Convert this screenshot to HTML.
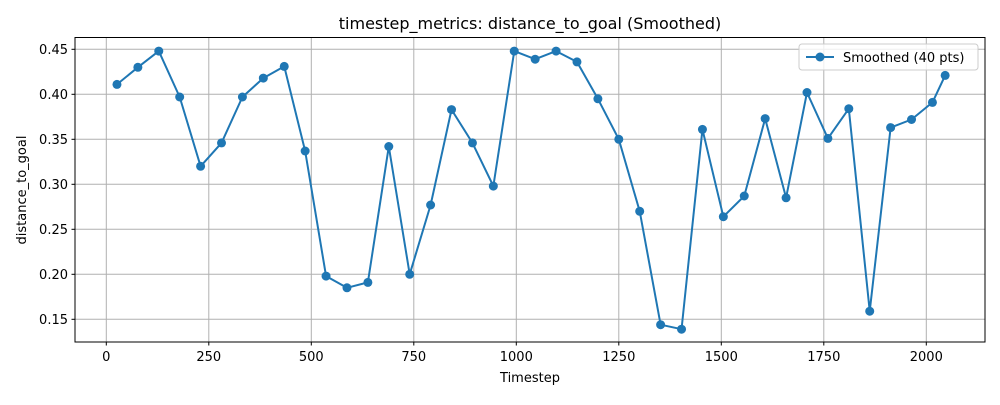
<!DOCTYPE html>
<html><head><meta charset="utf-8"><style>
body{margin:0;background:#fff;font-family:"Liberation Sans","DejaVu Sans",sans-serif;}
svg text{font-family:"DejaVu Sans","Liberation Sans",sans-serif;}
</style></head><body>
<svg id="chart" width="1000" height="400" xmlns="http://www.w3.org/2000/svg">
<rect width="1000" height="400" fill="#fff"/>
<g id="grid"></g>
<g id="series"></g>
<rect x="75" y="37.5" width="910" height="304.5" fill="none" stroke="#000" stroke-width="1"/>
<g id="ticks"></g>
<text x="530" y="29" font-size="16" text-anchor="middle">timestep_metrics: distance_to_goal (Smoothed)</text>
<text x="530" y="382" font-size="13" text-anchor="middle">Timestep</text>
<text x="0" y="0" font-size="13" text-anchor="middle" transform="translate(26,190) rotate(-90)">distance_to_goal</text>
<g>
<rect x="799" y="44" width="179" height="26" rx="3" fill="#fff" fill-opacity="0.8" stroke="#ccc"/>
<line x1="806" y1="57" x2="834" y2="57" stroke="#1f77b4" stroke-width="2"/>
<circle cx="820" cy="57" r="4.5" fill="#1f77b4"/>
<text x="843" y="62" font-size="13">Smoothed (40 pts)</text>
</g>
</svg>
<script>
const timesteps=[26,77,128,179,230,281,332,383,434,485,536,587,638,689,740,791,842,893,944,995,1046,1097,1148,1199,1250,1301,1352,1403,1454,1505,1556,1607,1658,1709,1760,1811,1862,1913,1964,2015,2046];
const values=[0.411,0.430,0.448,0.397,0.320,0.346,0.397,0.418,0.431,0.337,0.198,0.185,0.191,0.342,0.200,0.277,0.383,0.346,0.298,0.448,0.439,0.448,0.436,0.395,0.350,0.270,0.144,0.139,0.361,0.264,0.287,0.373,0.285,0.402,0.351,0.384,0.159,0.363,0.372,0.391,0.421];
const xTicks=[0,250,500,750,1000,1250,1500,1750,2000];
const yTicks=[0.15,0.20,0.25,0.30,0.35,0.40,0.45];
const X=t=>106.3+t*0.41;
const Y=v=>49.3+(0.45-v)*900;
const NS="http://www.w3.org/2000/svg";
function mk(tag,attrs,parent){const e=document.createElementNS(NS,tag);for(const k in attrs)e.setAttribute(k,attrs[k]);parent.appendChild(e);return e;}
const grid=document.getElementById('grid'),ticks=document.getElementById('ticks'),series=document.getElementById('series');
xTicks.forEach(t=>{
 const g=mk('line',{x1:X(t),x2:X(t),y1:37.5,y2:342,stroke:'#b0b0b0','stroke-width':1},grid);
 
 
 const tk=mk('line',{x1:X(t),x2:X(t),y1:342,y2:345.5,stroke:'#000'},ticks);
 
 
 const tx=mk('text',{x:X(t),y:361,'font-size':13,'text-anchor':'middle'},ticks);tx.textContent=t;
 
 
});
yTicks.forEach(v=>{
 const g=mk('line',{x1:75,x2:985,y1:Y(v),y2:Y(v),stroke:'#b0b0b0','stroke-width':1},grid);
 
 
 const tk=mk('line',{x1:71.5,x2:75,y1:Y(v),y2:Y(v),stroke:'#000'},ticks);
 
 
 const tx=mk('text',{x:68,y:Y(v)+4.5,'font-size':13,'text-anchor':'end'},ticks);tx.textContent=v.toFixed(2);
 
 
});
const pl=mk('polyline',{points:timesteps.map((t,i)=>X(t)+','+Y(values[i])).join(' '),fill:'none',stroke:'#1f77b4','stroke-width':2,'stroke-linejoin':'round'},series);


timesteps.forEach((t,i)=>{
 const c=mk('circle',{cx:X(t),cy:Y(values[i]),r:4.5,fill:'#1f77b4'},series);
 
 
});
</script>
</body></html>
